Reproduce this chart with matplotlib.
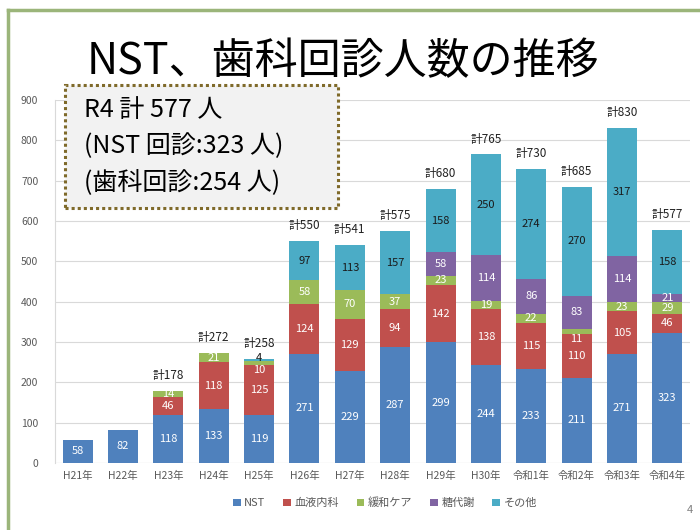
import matplotlib
matplotlib.use('Agg')
import matplotlib.pyplot as plt
from matplotlib.patches import Rectangle
import numpy as np

plt.rcParams['font.family'] = ['Noto Sans CJK JP', 'DejaVu Sans']

# years on the x axis
years = ['H21年', 'H22年', 'H23年', 'H24年', 'H25年', 'H26年', 'H27年', 'H28年',
         'H29年', 'H30年', '令和1年', '令和2年', '令和3年', '令和4年']

# series values (0 = no segment)
nst       = [58, 82, 118, 133, 119, 271, 229, 287, 299, 244, 233, 211, 271, 323]
ketsueki  = [0, 0, 46, 118, 125, 124, 129, 94, 142, 138, 115, 110, 105, 46]
kanwa     = [0, 0, 14, 21, 10, 58, 70, 37, 23, 19, 22, 11, 23, 29]
toutaisha = [0, 0, 0, 0, 0, 0, 0, 0, 58, 114, 86, 83, 114, 21]
sonota    = [0, 0, 0, 0, 4, 97, 113, 157, 158, 250, 274, 270, 317, 158]

# totals shown above bars (None = no label)
totals = [None, None, 178, 272, 258, 550, 541, 575, 680, 765, 730, 685, 830, 577]

series = [
    ('NST', nst, '#4F81BD', 'white'),
    ('血液内科', ketsueki, '#C0504D', 'white'),
    ('緩和ケア', kanwa, '#9BBB59', 'white'),
    ('糖代謝', toutaisha, '#8064A2', 'white'),
    ('その他', sonota, '#4BACC6', '#1a1a1a'),
]

fig = plt.figure(figsize=(7, 5.3), dpi=100)

# green slide frame (top and left edges)
fig.add_artist(plt.Line2D([8/700, 1.0], [1 - 10/530, 1 - 10/530], color='#9BB57A', lw=2.5))
fig.add_artist(plt.Line2D([8/700, 8/700], [0.0, 1 - 10/530], color='#9BB57A', lw=2.5))

fig.text(0.49, 1 - 62/530, 'NST、歯科回診人数の推移', ha='center', va='center',
         fontsize=31, color='black')

ax = fig.add_axes([55/700, 1 - 463/530, 635/700, 363/530])
x = np.arange(len(years))
bottom = np.zeros(len(years))
for name, vals, color, tcolor in series:
    vals = np.array(vals)
    ax.bar(x, vals, 0.66, bottom=bottom, color=color, label=name, zorder=2)
    for xi, b, v in zip(x, bottom, vals):
        if v > 0:
            y = b + v / 2
            if v < 15:
                # small segments: nudge labels apart like the original
                y = b - 14 if color == '#9BBB59' and b > 200 else y
                y = b + 6 if color == '#4BACC6' else y
            ax.text(xi, y, str(v), ha='center', va='center',
                    fontsize=8, color=tcolor, zorder=3)
    bottom += vals

for xi, t in zip(x, totals):
    if t is not None:
        ax.text(xi, t + 22, '計' + str(t), ha='center', va='bottom', fontsize=8.5,
                color='#222222')

ax.set_xlim(-0.5, len(years) - 0.5)
ax.set_ylim(0, 900)
ax.set_yticks(range(0, 901, 100))
ax.set_xticks(x)
ax.set_xticklabels(years)
ax.tick_params(axis='both', length=0, labelsize=7.5, colors='#595959')
ax.tick_params(axis='x', pad=6)
ax.tick_params(axis='y', pad=12)
ax.grid(axis='y', color='#D9D9D9', lw=0.8, zorder=0)
for s in ['top', 'right', 'bottom']:
    ax.spines[s].set_visible(False)
ax.spines['left'].set_color('#D9D9D9')
ax.axhline(0, color='#D9D9D9', lw=0.8, zorder=1)

leg = fig.legend(loc='center', bbox_to_anchor=(385/700, 1 - 503/530), ncol=5,
                 frameon=False, fontsize=8, handlelength=0.7, handleheight=0.7,
                 handletextpad=0.3, columnspacing=1.6)
for t in leg.get_texts():
    t.set_color('#595959')

# text box with dotted border
box = Rectangle((65/700, 1 - 208/530), 273/700, 123/530, transform=fig.transFigure,
                facecolor='#F2F2F2', edgecolor='#7F6A2A', lw=2.2, linestyle=(0, (1, 1)),
                zorder=5)
fig.add_artist(box)
lines = ['R4 計 577 人', '(NST 回診:323 人)', '(歯科回診:254 人)']
for i, s in enumerate(lines):
    fig.text(84/700, 1 - (110 + 36.5 * i)/530, s, ha='left', va='center',
             fontsize=18, color='black', zorder=6)

fig.text(690/700, 1 - 510/530, '4', ha='center', va='center', fontsize=8, color='#808080')

fig.savefig('out.png', dpi=100)
